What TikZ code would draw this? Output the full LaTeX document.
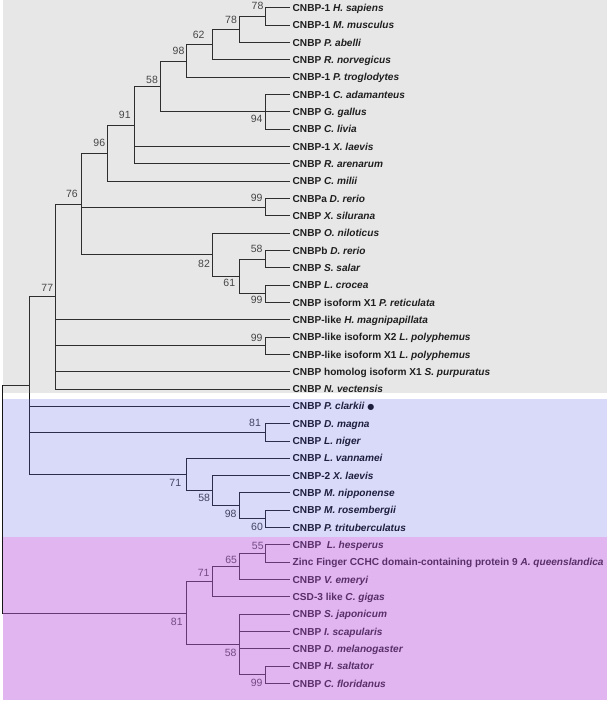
\documentclass[tikz,border=0pt]{standalone}
\usepackage{fontspec}
\setmainfont{Liberation Sans}
\newfontfamily\dejavu{DejaVu Sans}
\definecolor{ovgray}{RGB}{144,144,144}
\definecolor{ovblue}{RGB}{112,112,236}
\definecolor{ovpurple}{RGB}{189,99,223}
\definecolor{treeline}{RGB}{20,20,20}
\definecolor{bootcol}{RGB}{50,50,50}
\newcommand\leaf[3]{\coordinate (t#1) at (290,#2); \node[leaflab] (l#1) at (292.5,#2+3.6) {#3};}
\newcommand\boot[3]{\node[bootlab] (b#1) at (#2) {#3};}
\begin{document}
\begin{tikzpicture}[x=1pt,y=-1pt,
  leaflab/.style={anchor=base west,inner sep=0pt,font=\fontsize{10.1}{12}\selectfont\bfseries,text=black},
  bootlab/.style={inner sep=0pt,font=\fontsize{10.5}{12}\selectfont,text=bootcol},
  branch/.style={draw=treeline,line width=1pt},
  ov/.style={draw=none}]
\useasboundingbox (0,0) rectangle (609,701);
% leaves
\leaf{0}{8.00}{CNBP-1 \textit{H. sapiens}}
\leaf{1}{25.32}{CNBP-1 \textit{M. musculus}}
\leaf{2}{42.64}{CNBP \textit{P. abelli}}
\leaf{3}{59.96}{CNBP \textit{R. norvegicus}}
\leaf{4}{77.28}{CNBP-1 \textit{P. troglodytes}}
\leaf{5}{94.60}{CNBP-1 \textit{C. adamanteus}}
\leaf{6}{111.92}{CNBP \textit{G. gallus}}
\leaf{7}{129.24}{CNBP \textit{C. livia}}
\leaf{8}{146.56}{CNBP-1 \textit{X. laevis}}
\leaf{9}{163.88}{CNBP \textit{R. arenarum}}
\leaf{10}{181.20}{CNBP \textit{C. milii}}
\leaf{11}{198.52}{CNBPa \textit{D. rerio}}
\leaf{12}{215.84}{CNBP \textit{X. silurana}}
\leaf{13}{233.16}{CNBP \textit{O. niloticus}}
\leaf{14}{250.48}{CNBPb \textit{D. rerio}}
\leaf{15}{267.80}{CNBP \textit{S. salar}}
\leaf{16}{285.12}{CNBP \textit{L. crocea}}
\leaf{17}{302.44}{CNBP isoform X1 \textit{P. reticulata}}
\leaf{18}{319.76}{CNBP-like \textit{H. magnipapillata}}
\leaf{19}{337.08}{CNBP-like isoform X2 \textit{L. polyphemus}}
\leaf{20}{354.40}{CNBP-like isoform X1 \textit{L. polyphemus}}
\leaf{21}{371.72}{CNBP homolog isoform X1 \textit{S. purpuratus}}
\leaf{22}{389.04}{CNBP \textit{N. vectensis}}
\leaf{23}{406.36}{CNBP \textit{P. clarkii} {\dejavu\fontsize{8}{8}\selectfont ●}}
\leaf{24}{423.68}{CNBP \textit{D. magna}}
\leaf{25}{441.00}{CNBP \textit{L. niger}}
\leaf{26}{458.32}{CNBP \textit{L. vannamei}}
\leaf{27}{475.64}{CNBP-2 \textit{X. laevis}}
\leaf{28}{492.96}{CNBP \textit{M. nipponense}}
\leaf{29}{510.28}{CNBP \textit{M. rosembergii}}
\leaf{30}{527.60}{CNBP \textit{P. trituberculatus}}
\leaf{31}{544.92}{CNBP\ \ \textit{L. hesperus}}
\leaf{32}{562.24}{Zinc Finger CCHC domain-containing protein 9 \textit{A. queenslandica}}
\leaf{33}{579.56}{CNBP \textit{V. emeryi}}
\leaf{34}{596.88}{CSD-3 like \textit{C. gigas}}
\leaf{35}{614.20}{CNBP \textit{S. japonicum}}
\leaf{36}{631.52}{CNBP \textit{I. scapularis}}
\leaf{37}{648.84}{CNBP \textit{D. melanogaster}}
\leaf{38}{666.16}{CNBP \textit{H. saltator}}
\leaf{39}{683.48}{CNBP \textit{C. floridanus}}
% internal nodes
\coordinate (n78a) at (265.5,16.66);
\coordinate (n78b) at (239.5,29.65);
\coordinate (n62) at (212.5,44.80);
\coordinate (n98) at (186.5,61.04);
\coordinate (n94) at (265.5,111.92);
\coordinate (n58) at (160.5,86.48);
\coordinate (n91) at (134.5,125.18);
\coordinate (n96) at (107.5,153.19);
\coordinate (n99a) at (265.5,207.18);
\coordinate (n58c) at (265.5,259.14);
\coordinate (n99c) at (265.5,293.78);
\coordinate (n61) at (239.5,276.46);
\coordinate (n82) at (212.5,254.81);
\coordinate (n76) at (81.5,204.00);
\coordinate (n99p) at (265.5,345.74);
\coordinate (n77) at (55.5,296.52);
\coordinate (n81b) at (265.5,432.34);
\coordinate (n60) at (265.5,518.94);
\coordinate (n98b) at (239.5,505.95);
\coordinate (n58b) at (212.5,490.80);
\coordinate (n71b) at (186.5,474.56);
\coordinate (nX) at (29.5,385.54);
\coordinate (n55) at (265.5,553.58);
\coordinate (n65) at (239.5,566.57);
\coordinate (n71p) at (212.5,581.73);
\coordinate (n99q) at (265.5,674.82);
\coordinate (n58p) at (239.5,644.51);
\coordinate (n81p) at (186.5,613.12);
\coordinate (root) at (2.5,499.33);
% branches
\path[branch]
  (n78a) |- (t0) (n78a) |- (t1)
  (n78b) |- (n78a) (n78b) |- (t2)
  (n62) |- (n78b) (n62) |- (t3)
  (n98) |- (n62) (n98) |- (t4)
  (n94) |- (t5) (n94) |- (t6) (n94) |- (t7)
  (n58) |- (n98) (n58) |- (n94)
  (n91) |- (n58) (n91) |- (t8) (n91) |- (t9)
  (n96) |- (n91) (n96) |- (t10)
  (n99a) |- (t11) (n99a) |- (t12)
  (n58c) |- (t14) (n58c) |- (t15)
  (n99c) |- (t16) (n99c) |- (t17)
  (n61) |- (n58c) (n61) |- (n99c)
  (n82) |- (t13) (n82) |- (n61)
  (n76) |- (n96) (n76) |- (n99a) (n76) |- (n82)
  (n99p) |- (t19) (n99p) |- (t20)
  (n77) |- (n76) (n77) |- (t18) (n77) |- (n99p) (n77) |- (t21) (n77) |- (t22)
  (n81b) |- (t24) (n81b) |- (t25)
  (n60) |- (t29) (n60) |- (t30)
  (n98b) |- (t28) (n98b) |- (n60)
  (n58b) |- (t27) (n58b) |- (n98b)
  (n71b) |- (t26) (n71b) |- (n58b)
  (nX) |- (n77) (nX) |- (t23) (nX) |- (n81b) (nX) |- (n71b)
  (n55) |- (t31) (n55) |- (t32)
  (n65) |- (n55) (n65) |- (t33)
  (n71p) |- (n65) (n71p) |- (t34)
  (n99q) |- (t38) (n99q) |- (t39)
  (n58p) |- (t35) (n58p) |- (t36) (n58p) |- (t37) (n58p) |- (n99q)
  (n81p) |- (n71p) (n81p) |- (n58p)
  (root) |- (nX) (root) |- (n81p);
% bootstrap values
\boot{1}{257.5,6.3}{78}
\boot{2}{231,20.3}{78}
\boot{3}{198.7,34.7}{62}
\boot{4}{178.5,51.3}{98}
\boot{5}{152,79.5}{58}
\boot{6}{124.8,114.7}{91}
\boot{7}{99.3,143.3}{96}
\boot{8}{256.7,118.7}{94}
\boot{9}{72,194}{76}
\boot{10}{256.7,198.2}{99}
\boot{11}{204,263.5}{82}
\boot{12}{256.7,249.3}{58}
\boot{13}{229.3,283.3}{61}
\boot{14}{256.7,300.3}{99}
\boot{15}{47.3,287.5}{77}
\boot{16}{256.7,338.2}{99}
\boot{17}{255,422.7}{81}
\boot{18}{175.3,482.8}{71}
\boot{19}{204.2,498}{58}
\boot{20}{230.7,514}{98}
\boot{21}{257,526.5}{60}
\boot{22}{257.8,545.5}{55}
\boot{23}{231.2,559.5}{65}
\boot{24}{203.7,573.3}{71}
\boot{25}{176.8,621.7}{81}
\boot{26}{230.7,652.5}{58}
\boot{27}{256.7,682.5}{99}
% coloured group overlays
\fill[ov,ovgray,fill opacity=0.21] (3,0) rectangle (607,393);
\fill[ov,ovblue,fill opacity=0.267] (3,399) rectangle (607,537);
\fill[ov,ovpurple,fill opacity=0.475] (3,537) rectangle (607,700);
\end{tikzpicture}
\end{document}
